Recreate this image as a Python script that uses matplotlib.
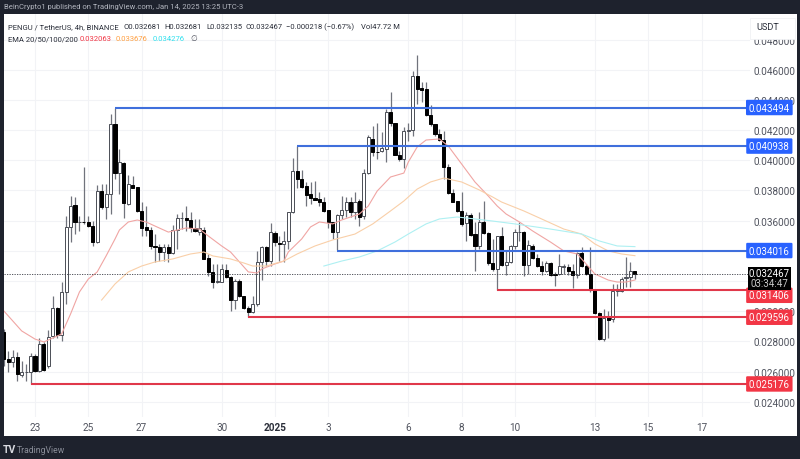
import numpy as np
import matplotlib
matplotlib.use('Agg')
import matplotlib.pyplot as plt
from matplotlib.patches import Rectangle

plt.rcParams['font.family'] = ['Roboto', 'DejaVu Sans']

# prices in thousandths of a USDT, one row per 10 candles (4h)
opens = [28.62, 26.83, 26.63, 26.96, 25.77, 25.97, 25.97, 27.03, 26.03, 27.82,
         26.37, 28.35, 30.21, 28.42, 31.27, 35.58, 37.03, 35.91, 35.94, 35.91,
         35.64, 34.58, 37.96, 36.90, 37.76, 42.40, 39.15, 39.82, 37.10, 38.36,
         38.23, 36.64, 35.58, 35.38, 34.32, 34.25, 33.92, 34.25, 33.85, 35.38,
         36.17, 36.17, 36.04, 35.51, 35.24, 35.38, 33.52, 32.60, 31.93, 31.93,
         32.73, 32.26, 30.74, 32.00, 31.00, 30.21, 29.94, 30.47, 33.26, 34.25,
         33.32, 35.18, 34.52, 34.45, 34.65, 36.57, 39.29, 38.76, 38.29, 37.76,
         37.50, 37.43, 37.23, 36.70, 35.91, 35.24, 36.37, 36.70, 37.23, 36.57,
         37.30, 36.30, 39.15, 41.41, 40.55, 40.61, 40.75, 43.20, 42.47, 40.35,
         40.08, 41.94, 42.00, 45.58, 44.79, 44.72, 43.00, 42.40, 41.74, 41.34,
         39.55, 37.83, 37.30, 36.64, 35.84, 36.37, 35.11, 34.32, 35.91, 35.18,
         33.19, 32.79, 34.98, 33.06, 33.26, 34.32, 35.24, 35.24, 33.06, 34.32,
         33.52, 32.99, 32.66, 33.19, 32.46, 32.46, 32.93, 32.93, 32.66, 32.40,
         33.85, 32.99, 32.46, 31.40, 29.88, 28.15, 29.61, 29.48, 31.34, 31.34,
         32.20, 32.26, 32.681]
highs = [28.82, 27.36, 27.43, 27.29, 26.70, 26.50, 27.23, 27.16, 28.22, 27.96,
         28.75, 31.00, 30.28, 31.93, 36.30, 37.63, 37.56, 36.30, 39.55, 36.30,
         35.97, 38.36, 38.43, 38.43, 43.06, 43.49, 40.75, 39.88, 39.02, 38.96,
         38.23, 37.23, 36.97, 35.58, 35.11, 34.45, 34.45, 34.45, 35.71, 36.44,
         36.57, 36.97, 36.57, 36.11, 36.11, 35.58, 33.79, 33.13, 33.13, 33.13,
         33.13, 32.33, 32.13, 32.13, 31.00, 30.34, 31.00, 33.99, 34.32, 34.32,
         35.84, 35.31, 34.98, 35.31, 36.57, 40.15, 40.94, 39.35, 38.56, 38.56,
         38.63, 37.90, 37.56, 36.70, 35.91, 36.44, 37.63, 37.56, 37.56, 37.90,
         37.43, 39.42, 41.67, 42.27, 42.47, 41.87, 43.40, 44.52, 42.47, 40.61,
         42.20, 42.47, 45.91, 46.97, 45.18, 45.18, 43.66, 42.40, 42.07, 41.94,
         39.75, 38.09, 37.30, 37.90, 36.57, 36.50, 35.91, 36.57, 37.30, 35.24,
         34.78, 34.98, 35.58, 33.99, 34.39, 35.44, 35.91, 35.31, 34.71, 34.45,
         33.79, 33.32, 33.32, 33.26, 32.60, 33.79, 33.13, 33.13, 33.13, 33.92,
         34.25, 33.13, 34.25, 31.40, 29.94, 30.14, 30.01, 31.80, 31.80, 32.26,
         33.59, 33.26, 32.681]
lows = [26.37, 25.97, 26.30, 25.37, 25.64, 25.37, 25.18, 25.97, 25.97, 26.03,
        26.23, 28.22, 28.22, 28.02, 30.47, 34.58, 35.11, 35.31, 35.78, 35.58,
        34.32, 34.52, 36.77, 36.11, 36.44, 38.76, 37.76, 36.17, 37.03, 38.16,
        36.57, 34.98, 34.98, 34.12, 33.26, 33.32, 33.32, 33.26, 33.79, 34.12,
        35.44, 35.31, 35.24, 35.24, 35.04, 33.46, 32.33, 31.53, 31.86, 31.93,
        32.20, 30.01, 30.14, 30.94, 30.14, 29.60, 29.88, 30.34, 32.06, 32.99,
        32.99, 34.32, 33.32, 33.26, 34.12, 36.50, 38.16, 38.16, 36.97, 37.10,
        37.37, 36.97, 36.57, 35.51, 34.78, 34.02, 36.11, 36.24, 36.24, 36.11,
        35.64, 36.11, 39.08, 40.28, 40.08, 40.55, 39.88, 42.27, 40.35, 39.95,
        39.49, 41.28, 41.61, 43.73, 43.86, 42.93, 42.27, 41.61, 41.28, 38.76,
        37.76, 37.23, 36.57, 35.64, 34.65, 34.98, 32.66, 34.12, 35.11, 33.06,
        32.66, 31.41, 32.99, 32.40, 33.19, 34.12, 34.65, 32.33, 32.46, 33.46,
        32.93, 32.40, 32.60, 32.33, 31.67, 32.40, 32.46, 32.40, 31.53, 32.20,
        32.93, 32.40, 31.27, 29.81, 28.09, 28.02, 28.22, 29.28, 31.00, 31.27,
        31.60, 31.60, 32.135]
closes = [26.83, 26.63, 26.96, 25.84, 25.97, 26.00, 27.03, 26.03, 27.82, 26.10,
          28.29, 30.21, 28.42, 31.27, 35.58, 36.97, 35.91, 35.94, 35.91, 35.64,
          34.58, 37.96, 36.90, 37.76, 42.40, 39.15, 39.88, 37.17, 38.43, 38.16,
          36.64, 35.51, 35.38, 34.32, 34.25, 33.92, 34.25, 33.85, 35.38, 36.17,
          36.20, 36.04, 35.51, 35.31, 35.51, 33.46, 32.60, 31.93, 32.00, 32.79,
          32.26, 30.74, 32.00, 31.00, 30.21, 29.94, 30.47, 33.26, 34.25, 33.32,
          35.24, 34.58, 34.45, 34.65, 36.57, 39.29, 38.76, 38.23, 37.70, 37.50,
          37.37, 37.23, 36.64, 35.91, 35.24, 36.37, 36.70, 37.23, 36.57, 37.23,
          36.24, 39.15, 41.54, 40.55, 40.52, 40.81, 43.20, 42.47, 40.35, 40.08,
          41.94, 42.00, 45.58, 44.72, 44.65, 43.00, 42.40, 41.74, 41.34, 39.55,
          37.83, 37.23, 36.64, 35.78, 36.37, 35.05, 34.32, 35.91, 35.18, 33.19,
          32.79, 34.98, 33.06, 33.26, 34.32, 35.24, 35.27, 33.06, 34.39, 33.52,
          32.99, 32.66, 33.19, 32.40, 32.40, 32.99, 32.99, 32.66, 32.40, 33.85,
          32.99, 32.46, 31.40, 29.88, 28.15, 29.55, 29.41, 31.34, 31.40, 32.13,
          32.26, 32.66, 32.467]

# EMA lines read at a few candles
ema20_idx = [-7, -5, -3, 0, 2, 4, 6, 8, 10, 12, 14, 16, 18, 19, 21, 23, 25, 27, 30, 32, 34, 37,
             39, 42, 44, 46, 48, 50, 51, 54, 56, 57, 60, 62, 64, 67, 69, 73, 75, 77, 80, 83,
             84, 86, 88, 91, 93, 96, 99, 102, 104, 106, 109, 112, 116, 119, 122, 124, 126,
             129, 131, 133, 135]
ema20 = [30.01, 29.35, 28.69, 28.15, 27.96, 28.22, 28.49, 29.81, 31.27, 32.13, 32.60, 33.66,
         34.78, 35.38, 35.91, 36.04, 35.91, 35.64, 35.24, 35.38, 35.51, 35.44,
         34.98, 34.32, 33.92, 33.26, 32.60, 32.53, 32.79, 33.13, 33.32, 33.92, 34.78, 35.58,
         35.91, 35.78, 36.04, 36.44, 36.97, 37.96, 38.89, 39.15,
         39.88, 40.88, 41.34, 41.41, 40.94, 39.75, 38.56, 37.63, 36.97, 36.44, 35.91, 35.31,
         34.58, 33.99, 33.79, 33.13, 32.46, 32.06, 31.93, 31.93, 32.063]
ema50_idx = [15, 18, 21, 24, 27, 31, 35, 38, 40, 44, 47, 49, 52, 56, 59, 63, 67, 72, 76, 80,
             83, 86, 89, 92, 96, 100, 103, 105, 110, 114, 119, 123, 126, 129, 132, 135]
ema50 = [30.74, 31.80, 32.60, 32.99, 33.26, 33.46, 33.79, 33.92, 33.66, 33.46, 33.19, 32.99,
         32.99, 33.32, 33.79, 34.32, 34.72, 35.11, 35.78, 36.64,
         37.30, 38.09, 38.56, 38.82, 38.56, 38.03, 37.56, 37.23, 36.64, 36.11, 35.44, 35.11,
         34.45, 33.99, 33.79, 33.676]
ema100_idx = [65, 69, 73, 77, 81, 84, 88, 91, 95, 99, 103, 108, 116, 123, 127, 131, 135]
ema100 = [32.99, 33.32, 33.59, 33.99, 34.58, 35.11, 35.78, 36.11, 36.24, 36.11, 35.97, 35.78,
          35.44, 35.11, 34.65, 34.32, 34.276]

# horizontal levels: first candle, price, where the axis tag sits
level_start = [18, 59, 68, 104, 48, -1]
level_price = [0.043494, 0.040938, 0.034016, 0.031406, 0.029596, 0.025176]
level_tag = [0.043494, 0.040938, 0.034016, 0.03105, 0.029596, 0.025176]
level_kind = ['blue', 'blue', 'blue', 'red', 'red', 'red']

last_price = 0.032467
price_ticks = [0.024, 0.026, 0.028, 0.030, 0.032, 0.034, 0.036, 0.038, 0.040, 0.042, 0.044, 0.046, 0.048]
# 0.032 and 0.034 sit fully behind the tags in the reference
hidden_ticks = [0.032, 0.034]
date_idx = [0, 12, 24, 42, 54, 66, 84, 96, 108, 126, 138, 150]
date_labels = ['23', '25', '27', '30', '2025', '3', '6', '8', '10', '13', '15', '17']

DARK = '#1e222d'
GRID = '#f2f3f6'
TEXT = '#50535e'
LINE = {'blue': '#3f6fdc', 'red': '#e0384a'}
TAG = {'blue': '#2962ff', 'red': '#f23645'}
W, H = 800, 460


def px(x, y):
    return x / W, 1 - y / H


def main():
    fig = plt.figure(figsize=(W / 100, H / 100), dpi=100, facecolor=DARK)
    fig.add_artist(Rectangle(px(3.5, 437), 793.5 / W, 422 / H, transform=fig.transFigure,
                             facecolor='white', edgecolor='none', zorder=-1))

    # plot pane 3.5..750 x 15..418, scales fixed from the tick positions
    ax = fig.add_axes([3.5 / W, 1 - 418 / H, 746.5 / W, 403 / H], zorder=1)
    ax.set_facecolor('white')
    ax.set_xlim((3.5 - 35) / 4.444, (750 - 35) / 4.444)
    ax.set_ylim((50.685 - 0.066265 * 418) / 1000, (50.685 - 0.066265 * 15) / 1000)
    for s in ax.spines.values():
        s.set_visible(False)

    ax.yaxis.tick_right()
    ax.set_yticks(price_ticks)
    ax.set_yticklabels(['' if p in hidden_ticks else '%.6f' % p for p in price_ticks],
                       fontsize=7.2, color=TEXT)
    ax.set_xticks(date_idx)
    ax.set_xticklabels(date_labels, fontsize=7.2, color=TEXT)
    ax.get_xticklabels()[4].set_fontweight('bold')
    ax.get_xticklabels()[4].set_color('#2a2e39')
    ax.tick_params(length=0, pad=2.6)
    ax.tick_params(axis='x', pad=3.5)
    ax.grid(True, color=GRID, lw=0.8)
    ax.set_axisbelow(True)

    o = np.array(opens) / 1000
    h = np.array(highs) / 1000
    l = np.array(lows) / 1000
    c = np.array(closes) / 1000
    idx = np.arange(-7, 136)
    up = c >= o

    ax.vlines(idx, l, h, color='#70737c', lw=0.9, zorder=3)
    ax.bar(idx[up], (c - o)[up], bottom=o[up], width=0.7, facecolor='white',
           edgecolor='#4a4d55', lw=0.7, zorder=4)
    ax.bar(idx[~up], (o - c)[~up], bottom=c[~up], width=0.7, facecolor='black',
           edgecolor='black', lw=0.7, zorder=4)

    ax.plot(ema20_idx, np.array(ema20) / 1000, color='#f0a5a3', lw=0.8, zorder=5)
    ax.plot(ema50_idx, np.array(ema50) / 1000, color='#f9cfa8', lw=0.8, zorder=5)
    ax.plot(ema100_idx, np.array(ema100) / 1000, color='#aef0f2', lw=0.8, zorder=5)

    ax.axhline(last_price, color='#3a3d45', lw=0.6, ls=(0, (1.5, 1.5)), zorder=6)

    # level lines and their tags on the price scale
    tagbox = ax.get_yaxis_transform()
    for start, price, tag, kind in zip(level_start, level_price, level_tag, level_kind):
        ax.plot([start, ax.get_xlim()[1]], [price, price], color=LINE[kind], lw=1.5, zorder=7,
                solid_capstyle='butt')
        ax.text(1.0259, tag, '%.6f' % price, transform=tagbox, ha='center', va='center',
                fontsize=7.0, color='white', zorder=9, clip_on=False,
                bbox=dict(boxstyle='round,pad=0.28,rounding_size=0.12', facecolor=TAG[kind],
                          edgecolor='none'))

    # last price tag
    fig.add_artist(Rectangle(px(748, 290.5), 42.5 / W, 22.5 / H, transform=fig.transFigure,
                             facecolor='black', edgecolor='none', zorder=8))
    fig.text(*px(769, 274), '%.6f' % last_price, color='white', fontsize=7.0, ha='center',
             va='center', zorder=9)
    fig.text(*px(769, 284), '03:34:47', color='#c8c8c8', fontsize=7.0, ha='center',
             va='center', zorder=9)

    # unit box on top of the scale, it cuts the 0.048000 label in half as in the reference
    fig.add_artist(Rectangle(px(750, 40), 45 / W, 21 / H, transform=fig.transFigure,
                             facecolor='white', edgecolor='#f0f1f4', lw=0.6, zorder=8))
    fig.text(*px(756, 28), 'USDT', color='#2a2e39', fontsize=6.6, va='center', zorder=9)

    # header, legend, footer
    fig.text(*px(4, 7.5), 'BeinCrypto1 published on TradingView.com, Jan 14, 2025 13:25 UTC-3',
             color='#b2b5be', fontsize=5.5, va='center')
    row1 = [(8, 'PENGU / TetherUS, 4h, BINANCE'), (123, 'O0.032681'), (164, 'H0.032681'),
            (206, 'L0.032135'), (245, 'C0.032467'), (286, '\u22120.000218 (\u22120.67%)'),
            (361, 'Vol47.72 M')]
    for x, s in row1:
        fig.text(*px(x, 27), s, color='#2a2e39', fontsize=5.5, va='center', zorder=9)
    row2 = [(8, 'EMA 20/50/100/200', '#2a2e39'), (80, '0.032063', '#f23645'),
            (116, '0.033676', '#ff9f40'), (153, '0.034276', '#2fe0ee'), (190, '\u2205', '#50535e')]
    for x, s, col in row2:
        fig.text(*px(x, 39), s, color=col, fontsize=5.5, va='center', zorder=9)
    fig.text(*px(3, 450), 'TV', color='#d8dae0', fontsize=7.5, fontweight='bold', va='center')
    fig.text(*px(17, 450.5), 'TradingView', color='#8a8e99', fontsize=6.2, va='center')

    fig.savefig('out.png', dpi=100, facecolor=DARK)


if __name__ == '__main__':
    main()
